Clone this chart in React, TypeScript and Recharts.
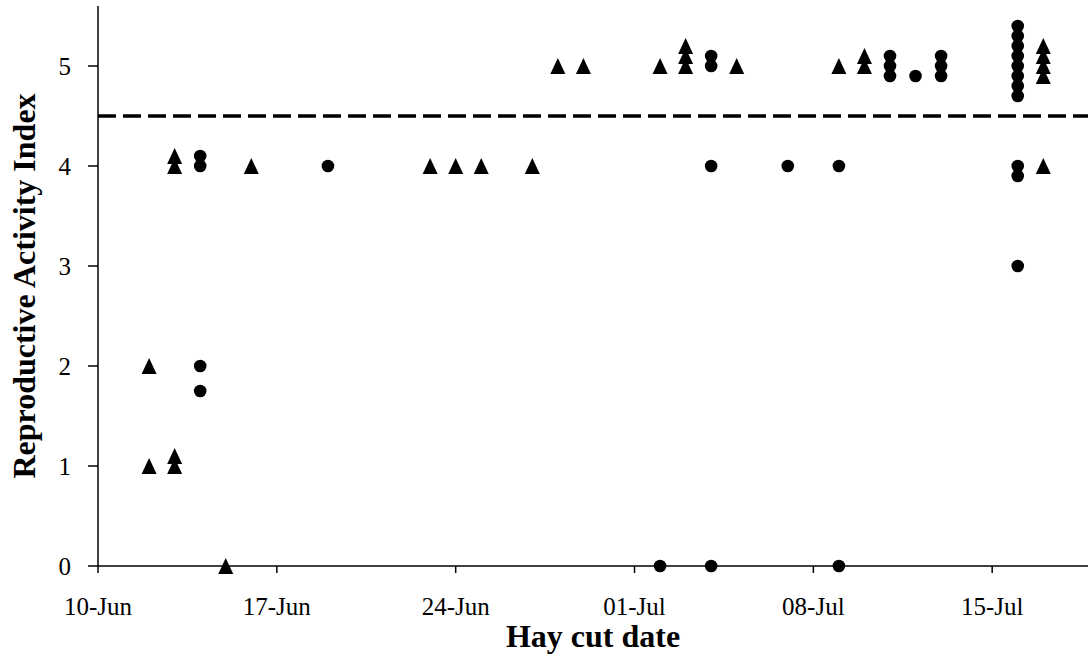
import { ScatterChart, Scatter, XAxis, YAxis, ReferenceLine } from 'recharts'

// days counted from 10-Jun
const xTicks = [0, 7, 14, 21, 28, 35]
const xTickLabels = ['10-Jun', '17-Jun', '24-Jun', '01-Jul', '08-Jul', '15-Jul']
const yTicks = [0, 1, 2, 3, 4, 5]

const circleData = [
  { day: 4, index: 4.1 }, { day: 4, index: 4.0 }, { day: 4, index: 2.0 }, { day: 4, index: 1.75 },
  { day: 9, index: 4 },
  { day: 22, index: 0 },
  { day: 24, index: 5.1 }, { day: 24, index: 5.0 }, { day: 24, index: 4.0 }, { day: 24, index: 0 },
  { day: 27, index: 4 },
  { day: 29, index: 4 }, { day: 29, index: 0 },
  { day: 31, index: 5.1 }, { day: 31, index: 5.0 }, { day: 31, index: 4.9 },
  { day: 32, index: 4.9 },
  { day: 33, index: 5.1 }, { day: 33, index: 5.0 }, { day: 33, index: 4.9 },
  { day: 36, index: 5.4 }, { day: 36, index: 5.3 }, { day: 36, index: 5.2 }, { day: 36, index: 5.1 },
  { day: 36, index: 5.0 }, { day: 36, index: 4.9 }, { day: 36, index: 4.8 }, { day: 36, index: 4.7 },
  { day: 36, index: 4.0 }, { day: 36, index: 3.9 }, { day: 36, index: 3.0 },
]

const triangleData = [
  { day: 2, index: 2 }, { day: 2, index: 1 },
  { day: 3, index: 4.1 }, { day: 3, index: 4.0 }, { day: 3, index: 1.1 }, { day: 3, index: 1.0 },
  { day: 5, index: 0 },
  { day: 6, index: 4 },
  { day: 13, index: 4 }, { day: 14, index: 4 }, { day: 15, index: 4 }, { day: 17, index: 4 },
  { day: 18, index: 5 }, { day: 19, index: 5 },
  { day: 22, index: 5 },
  { day: 23, index: 5.2 }, { day: 23, index: 5.1 }, { day: 23, index: 5.0 },
  { day: 25, index: 5 },
  { day: 29, index: 5 },
  { day: 30, index: 5.1 }, { day: 30, index: 5.0 },
  { day: 37, index: 5.2 }, { day: 37, index: 5.1 }, { day: 37, index: 5.0 }, { day: 37, index: 4.9 }, { day: 37, index: 4.0 },
]

const threshold = 4.5

const FONT = '"Liberation Serif", "Times New Roman", serif'

function Dot(props: any) {
  return <circle cx={props.cx} cy={props.cy} r={6.3} fill="#000" />
}

function Tri(props: any) {
  const { cx, cy } = props
  return <polygon points={`${cx},${cy - 8} ${cx + 7.5},${cy + 8} ${cx - 7.5},${cy + 8}`} fill="#000" />
}

export default function App() {
  return (
    <div style={{ position: 'absolute', left: 0, top: 0, width: 1088, height: 659, background: '#fff' }}>
      <ScatterChart width={1088} height={659} margin={{ top: 6, right: 0, bottom: 0, left: 0 }}>
        <XAxis
          type="number"
          dataKey="day"
          domain={[0, 38.75]}
          ticks={xTicks}
          tickFormatter={(v: number) => xTickLabels[xTicks.indexOf(v)]}
          height={93}
          tickSize={7}
          tickMargin={24}
          stroke="#000"
          strokeWidth={1.5}
          tick={{ fill: '#000', fontSize: 25, fontFamily: FONT }}
          label={{
            value: 'Hay cut date',
            position: 'insideBottom',
            offset: 12,
            style: { fill: '#000', fontSize: 32, fontWeight: 'bold', fontFamily: FONT },
          }}
        />
        <YAxis
          type="number"
          dataKey="index"
          domain={[0, 5.6]}
          ticks={yTicks}
          width={98}
          tickSize={10}
          tickMargin={17}
          stroke="#000"
          strokeWidth={1.5}
          tick={{ fill: '#000', fontSize: 25, fontFamily: FONT }}
          label={{
            value: 'Reproductive Activity Index',
            angle: -90,
            position: 'insideLeft',
            offset: 24,
            style: { fill: '#000', fontSize: 32, fontWeight: 'bold', fontFamily: FONT, textAnchor: 'middle' },
          }}
        />
        <ReferenceLine y={threshold} stroke="#000" strokeWidth={3.5} strokeDasharray="18 7" />
        <Scatter data={triangleData} shape={Tri} isAnimationActive={false} />
        <Scatter data={circleData} shape={Dot} isAnimationActive={false} />
      </ScatterChart>
    </div>
  )
}
